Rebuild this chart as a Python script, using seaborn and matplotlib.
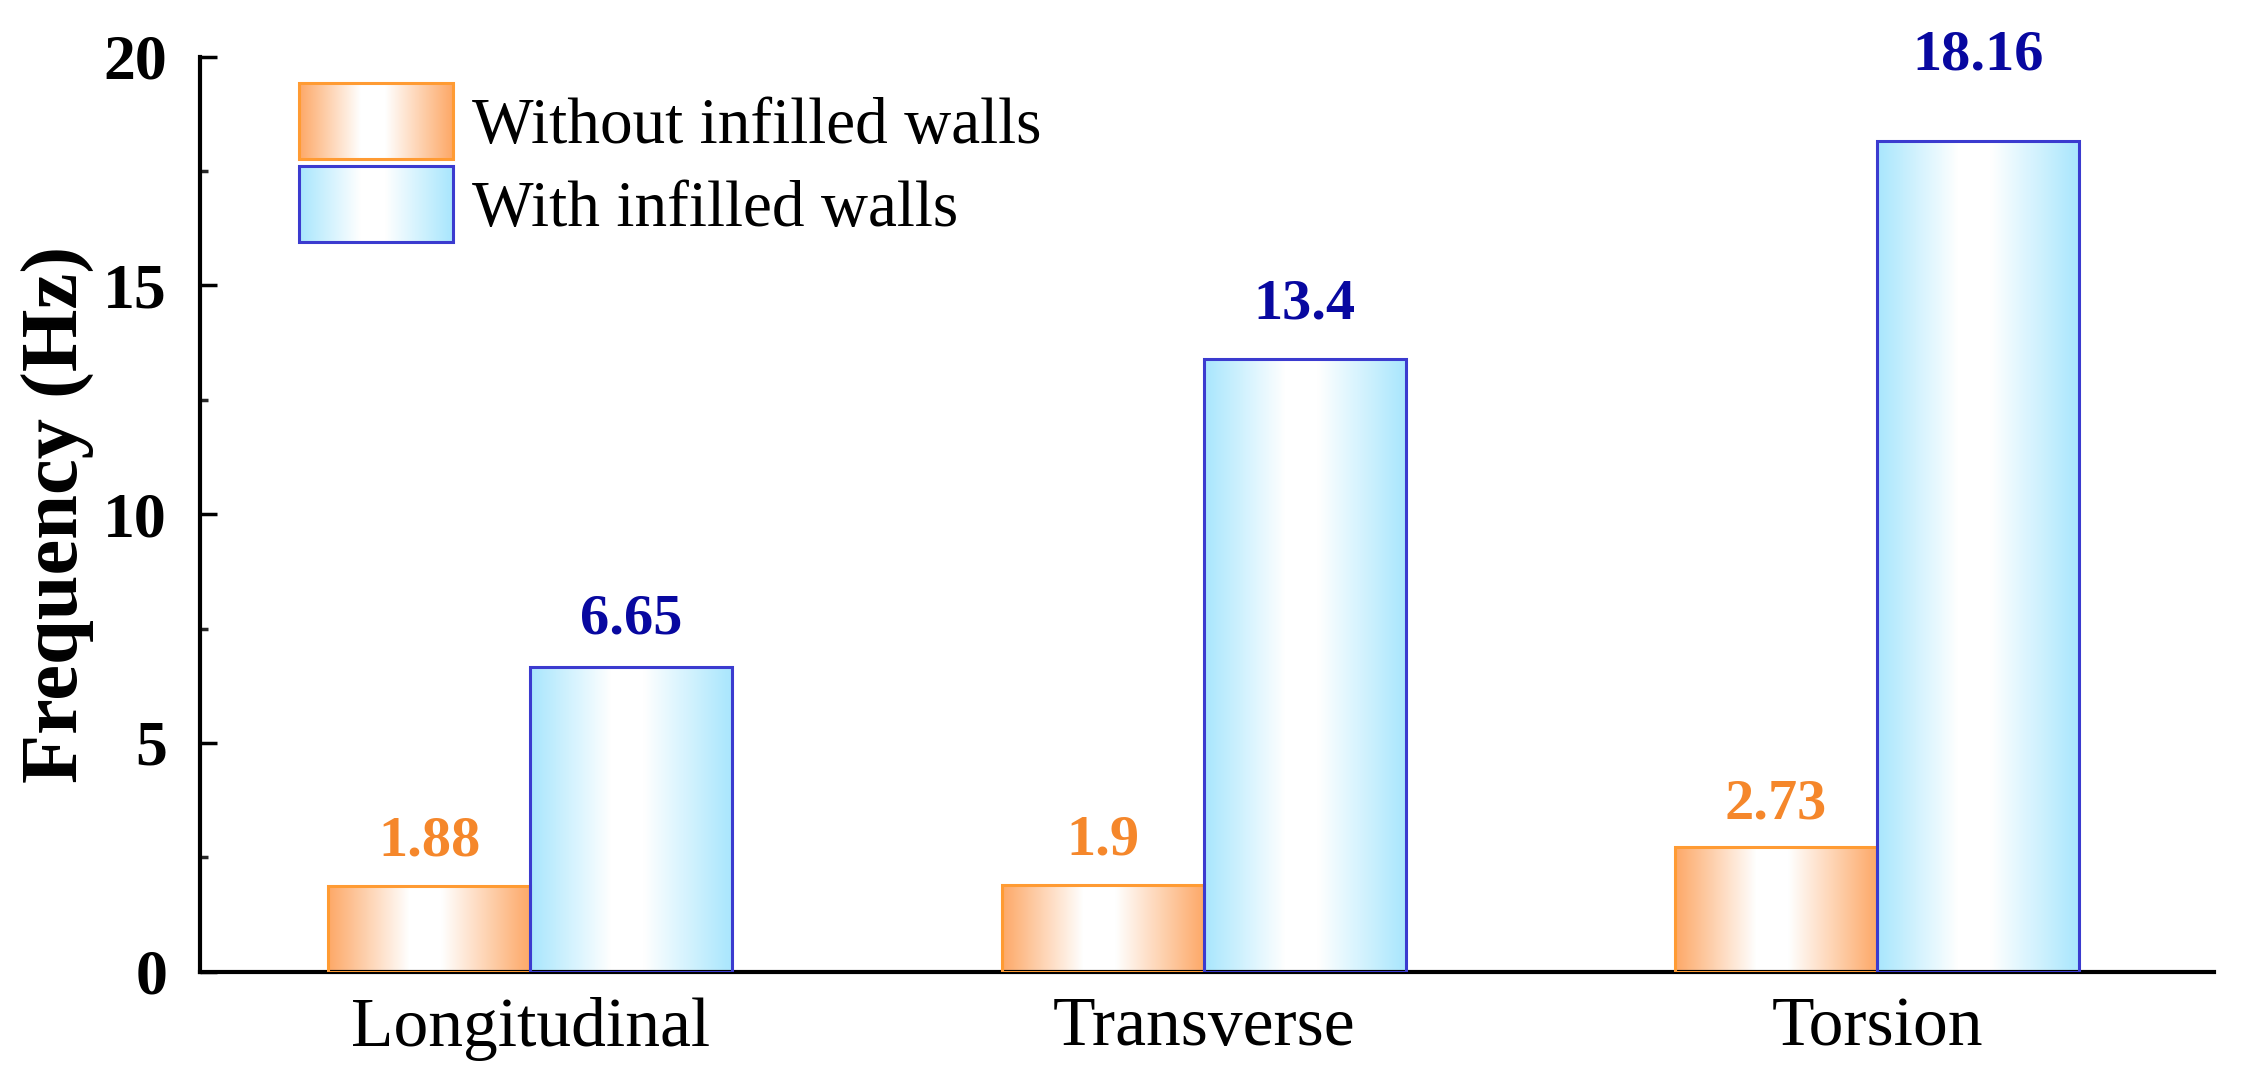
import matplotlib
matplotlib.use("Agg")
import matplotlib.pyplot as plt
import numpy as np
import pandas as pd
import seaborn as sns
from matplotlib.colors import LinearSegmentedColormap
from matplotlib.image import BboxImage
from matplotlib.legend_handler import HandlerBase
from matplotlib.patches import Rectangle
from matplotlib.ticker import MultipleLocator
from matplotlib.transforms import Bbox, TransformedBbox

# data
modes = ["Longitudinal", "Transverse", "Torsion"]
series = ["Without infilled walls", "With infilled walls"]
freq_without = [1.88, 1.9, 2.73]
freq_with = [6.65, 13.4, 18.16]
text_without = ["1.88", "1.9", "2.73"]
text_with = ["6.65", "13.4", "18.16"]

fill_colors = ["#FDA867", "#A8E6FD"]
edge_colors = ["#FF9B33", "#3B3BCF"]
text_colors = ["#F5872B", "#0808A0"]
label_pad = [[13, 13, 12], [16, 20, 43]]


def gradient_cmap(color: str) -> LinearSegmentedColormap:
    return LinearSegmentedColormap.from_list(
        "grad", [(0.0, color), (0.4, "#FFFFFF"), (0.56, "#FFFFFF"), (1.0, color)]
    )


class GradientHandler(HandlerBase):
    def __init__(self, cmap, edge):
        super().__init__()
        self.cmap = cmap
        self.edge = edge

    def create_artists(self, legend, orig_handle, xdescent, ydescent, width, height, fontsize, trans):
        box = TransformedBbox(Bbox.from_bounds(-xdescent, -ydescent, width, height), trans)
        img = BboxImage(box, cmap=self.cmap, interpolation="bilinear")
        img.set_data(np.linspace(0, 1, 256).reshape(1, -1))
        img.set_clim(0, 1)
        rect = Rectangle((-xdescent, -ydescent), width, height, facecolor="none",
                         edgecolor=self.edge, linewidth=2.2, transform=trans)
        return [img, rect]


df = pd.DataFrame({
    "mode": modes * 2,
    "series": [series[0]] * len(modes) + [series[1]] * len(modes),
    "freq": freq_without + freq_with,
})

sns.set_theme(style="ticks")
plt.rcParams["font.family"] = ["Liberation Serif", "DejaVu Serif"]
plt.rcParams["text.color"] = "black"
plt.rcParams["axes.labelcolor"] = "black"

fig, ax = plt.subplots(figsize=(22.52, 10.87), dpi=100)
fig.subplots_adjust(left=0.089, right=0.983, top=0.948, bottom=0.106)

sns.barplot(data=df, x="mode", y="freq", hue="series", order=modes, hue_order=series,
            palette=fill_colors, width=0.6, gap=0, legend=False, ax=ax)

texts = [text_without, text_with]
for i, cont in enumerate(ax.containers):
    cmap = gradient_cmap(fill_colors[i])
    for j, patch in enumerate(cont.patches):
        x0, w, h = patch.get_x(), patch.get_width(), patch.get_height()
        patch.set_facecolor("none")
        patch.set_edgecolor(edge_colors[i])
        patch.set_linewidth(2.2)
        patch.set_zorder(3)
        img = ax.imshow(np.linspace(0, 1, 256).reshape(1, -1), cmap=cmap, aspect="auto",
                        extent=[x0, x0 + w, 0, h], interpolation="bilinear", zorder=2,
                        vmin=0, vmax=1)
        img.set_clip_path(patch)
        ax.annotate(texts[i][j], xy=(x0 + w / 2, h), xytext=(0, label_pad[i][j]),
                    textcoords="offset points", ha="center", va="bottom",
                    fontsize=42, fontweight="bold", color=text_colors[i])

ax.set_xlim(-0.49, 2.5)
ax.set_ylim(0, 20)
ax.yaxis.set_major_locator(MultipleLocator(5))
ax.yaxis.set_minor_locator(MultipleLocator(2.5))
ax.set_yticklabels([f"{v:g}" for v in ax.get_yticks()], fontweight="bold")

ax.set_xlabel("")
ax.set_ylabel("Frequency (Hz)", fontsize=58, fontweight="bold", labelpad=6)
ax.tick_params(axis="y", which="major", direction="in", length=12, width=2.5,
               labelsize=46, pad=24, colors="black")
ax.tick_params(axis="y", which="minor", direction="in", length=6, width=2.5)
ax.tick_params(axis="x", length=0, labelsize=50, pad=18, colors="black")

for side in ["top", "right"]:
    ax.spines[side].set_visible(False)
for side in ["left", "bottom"]:
    ax.spines[side].set_linewidth(3.0)
    ax.spines[side].set_color("black")

handles = [Rectangle((0, 0), 1, 1), Rectangle((0, 1), 1, 1)]
ax.legend(handles, series, loc="upper left", bbox_to_anchor=(0.02, 1.035), frameon=False,
          fontsize=47, handlelength=2.35, handleheight=1.4, labelspacing=0.12,
          handletextpad=0.3, labelcolor="black",
          handler_map={handles[0]: GradientHandler(gradient_cmap(fill_colors[0]), edge_colors[0]),
                       handles[1]: GradientHandler(gradient_cmap(fill_colors[1]), edge_colors[1])})

fig.savefig("out.png", dpi=100)
